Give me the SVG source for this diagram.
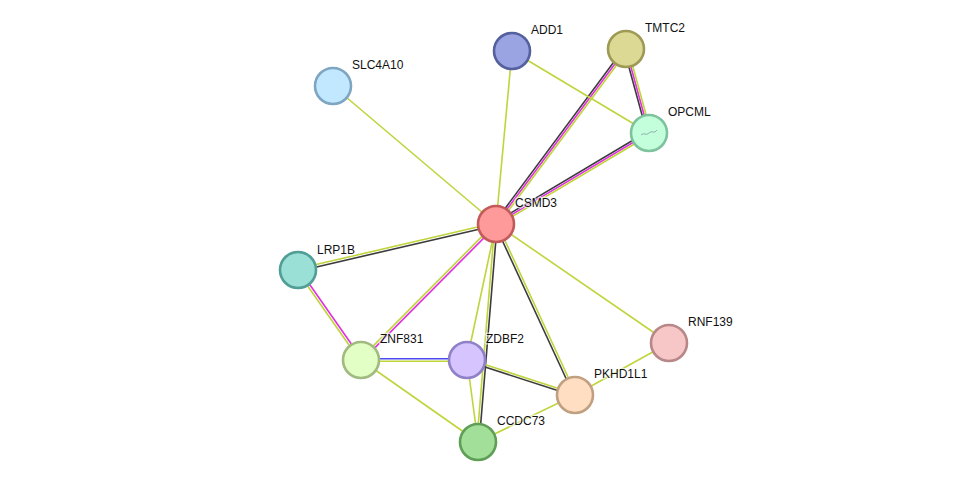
<svg xmlns="http://www.w3.org/2000/svg" width="976" height="488" viewBox="0 0 976 488">
<style>
.y{stroke:#c0d43c;stroke-width:1.6;fill:none}
.k{stroke:#3c3c3c;stroke-width:1.6;fill:none}
.m{stroke:#e030e0;stroke-width:1.6;fill:none}
.b{stroke:#4a4af0;stroke-width:1.6;fill:none}
.n{stroke-width:2.6}
text{font-family:"Liberation Sans",Arial,sans-serif;font-size:12px;fill:#111;stroke:#fff;stroke-width:3;stroke-opacity:0.6;paint-order:stroke;stroke-linejoin:round}
</style>
<rect width="976" height="488" fill="#fff"/>
<g id="connectors">
<line class="y" x1="496" y1="224" x2="512" y2="51"/>
<line class="k" x1="494.4" y1="222.8" x2="624.4" y2="47.8"/>
<line class="m" x1="496" y1="224" x2="626" y2="49"/>
<line class="y" x1="497.6" y1="225.2" x2="627.6" y2="50.2"/>
<line class="k" x1="495" y1="222.3" x2="648" y2="131.3"/>
<line class="m" x1="496" y1="224" x2="649" y2="133"/>
<line class="y" x1="497" y1="225.7" x2="650" y2="134.7"/>
<line class="y" x1="512" y1="51" x2="649" y2="133"/>
<line class="k" x1="624.1" y1="49.5" x2="647.1" y2="133.5"/>
<line class="m" x1="626" y1="49" x2="649" y2="133"/>
<line class="y" x1="627.9" y1="48.5" x2="650.9" y2="132.5"/>
<line class="y" x1="333" y1="86" x2="496" y2="224"/>
<line class="y" x1="495.7" y1="222.8" x2="297.7" y2="268.8"/>
<line class="k" x1="496.3" y1="225.2" x2="298.3" y2="271.2"/>
<line class="m" x1="299" y1="269.3" x2="362" y2="359.3"/>
<line class="y" x1="297" y1="270.7" x2="360" y2="360.7"/>
<line class="y" x1="495.15" y1="223.15" x2="360.15" y2="359.15"/>
<line class="m" x1="496.85" y1="224.85" x2="361.85" y2="360.85"/>
<line class="y" x1="496" y1="224" x2="467" y2="360"/>
<line class="y" x1="494.8" y1="224" x2="476.8" y2="442"/>
<line class="k" x1="497.2" y1="224" x2="479.2" y2="442"/>
<line class="k" x1="494.9" y1="224.5" x2="573.9" y2="395.5"/>
<line class="y" x1="497.1" y1="223.5" x2="576.1" y2="394.5"/>
<line class="y" x1="496" y1="224" x2="669" y2="343"/>
<line class="b" x1="361" y1="358.8" x2="467" y2="358.8"/>
<line class="y" x1="361" y1="361.2" x2="467" y2="361.2"/>
<line class="y" x1="361" y1="360" x2="478" y2="442"/>
<line class="y" x1="467" y1="360" x2="478" y2="442"/>
<line class="y" x1="467.4" y1="358.9" x2="575.4" y2="393.9"/>
<line class="k" x1="466.6" y1="361.1" x2="574.6" y2="396.1"/>
<line class="y" x1="575" y1="395" x2="478" y2="442"/>
<line class="y" x1="575" y1="395" x2="669" y2="343"/>
</g>
<g id="CSMD3"><circle class="n" cx="496" cy="224" r="18" fill="#ff9a9a" stroke="#c25a5a"/><text x="515" y="207">CSMD3</text></g>
<g id="ADD1"><circle class="n" cx="512" cy="51" r="18" fill="#9aa4e2" stroke="#55609e"/><text x="531" y="34">ADD1</text></g>
<g id="TMTC2"><circle class="n" cx="626" cy="49" r="18" fill="#dcd994" stroke="#9e9a55"/><text x="645" y="32">TMTC2</text></g>
<g id="SLC4A10"><circle class="n" cx="333" cy="86" r="18" fill="#c2e8ff" stroke="#7ea6c2"/><text x="352" y="69">SLC4A10</text></g>
<g id="OPCML"><circle class="n" cx="649" cy="133" r="18" fill="#c2ffda" stroke="#7ec29e"/><path d="M641 135 q2 -2 4 -1 q2 1 4 -1 q2 -2 4 -1 q2 1 4 -2" fill="none" stroke="#8a9aa8" stroke-width="0.8"/><text x="668" y="116">OPCML</text></g>
<g id="LRP1B"><circle class="n" cx="298" cy="270" r="18" fill="#9ae0d6" stroke="#509e96"/><text x="317" y="254">LRP1B</text></g>
<g id="RNF139"><circle class="n" cx="669" cy="343" r="18" fill="#f7c6c6" stroke="#b88888"/><text x="688" y="326">RNF139</text></g>
<g id="ZNF831"><circle class="n" cx="361" cy="360" r="18" fill="#e2ffc6" stroke="#a0ba80"/><text x="380" y="343">ZNF831</text></g>
<g id="ZDBF2"><circle class="n" cx="467" cy="360" r="18" fill="#d6c4ff" stroke="#9080c8"/><text x="486" y="343">ZDBF2</text></g>
<g id="PKHD1L1"><circle class="n" cx="575" cy="395" r="18" fill="#ffdec2" stroke="#c0a080"/><text x="594" y="378">PKHD1L1</text></g>
<g id="CCDC73"><circle class="n" cx="478" cy="442" r="18" fill="#a2e09a" stroke="#5e9e56"/><text x="497" y="425">CCDC73</text></g>
</svg>
